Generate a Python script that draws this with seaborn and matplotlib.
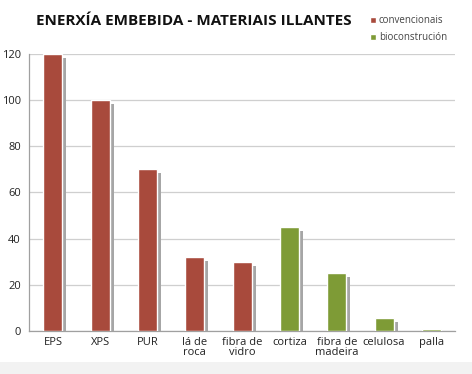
import matplotlib
matplotlib.use("Agg")
import matplotlib.pyplot as plt
import matplotlib.transforms as mtransforms
from matplotlib.patches import Rectangle
import seaborn as sns
import pandas as pd

categories = ["EPS", "XPS", "PUR", "lá de\nroca", "fibra de\nvidro", "cortiza",
              "fibra de\nmadeira", "celulosa", "palla"]
values = [120, 100, 70, 32, 30, 45, 25, 5.5, 0.8]
groups = ["convencionais"] * 5 + ["bioconstrución"] * 4
title = "ENERXÍA EMBEBIDA - MATERIAIS ILLANTES"
colors = {"convencionais": "#A84A3C", "bioconstrución": "#7E9B36"}

df = pd.DataFrame({"cat": categories, "val": values, "grp": groups})

sns.set_style("white")
plt.rcParams["font.family"] = ["Open Sans", "DejaVu Sans"]

fig = plt.figure(figsize=(4.72, 3.74), dpi=100)
ax = fig.add_axes([0.062, 0.115, 0.902, 0.741])

sns.barplot(data=df, x="cat", y="val", hue="grp", palette=colors, dodge=False,
            width=0.4, ax=ax, legend=True, zorder=3, saturation=1)

# shadows
for p in list(ax.patches):
    if p.get_height() <= 0:
        continue
    tr = mtransforms.offset_copy(ax.transData, fig=fig, x=4, y=-4, units="dots")
    sh = Rectangle((p.get_x(), p.get_y()), p.get_width(), p.get_height(),
                   transform=tr, facecolor="#A6A6A6", edgecolor="none", zorder=2)
    ax.add_patch(sh)

ax.set_ylim(0, 120)
ax.set_xlim(-0.5, 8.5)
ax.set_yticks(range(0, 121, 20))
ax.yaxis.grid(True, color="#CFCFCF", linewidth=0.9, zorder=0)
ax.set_axisbelow(True)
ax.set_xlabel("")
ax.set_ylabel("")
for s in ["top", "right"]:
    ax.spines[s].set_visible(False)
for s in ["left", "bottom"]:
    ax.spines[s].set_color("#A0A0A0")
    ax.spines[s].set_linewidth(0.9)
ax.tick_params(axis="y", length=4, color="#A0A0A0", labelsize=8, labelcolor="#222222", pad=2)
ax.tick_params(axis="x", length=0, labelsize=8, labelcolor="#222222", pad=4)
for lbl in ax.get_xticklabels():
    lbl.set_linespacing(0.95)

handles, labels = ax.get_legend_handles_labels()
ax.get_legend().remove()
leg = fig.legend(handles, labels, loc="upper left", bbox_to_anchor=(0.775, 0.97),
                 frameon=False, fontsize=7, handlelength=0.6, handleheight=0.6,
                 handletextpad=0.35, labelspacing=0.65, borderaxespad=0)
for t in leg.get_texts():
    t.set_color("#444444")

fig.text(0.41, 0.945, title, ha="center", va="center", fontsize=11,
         fontweight="bold", color="#111111")

fig.patches.append(Rectangle((0, 0), 1, 0.032, transform=fig.transFigure,
                             facecolor="#F2F2F2", edgecolor="none", zorder=0))

fig.savefig("out.png", dpi=100)
